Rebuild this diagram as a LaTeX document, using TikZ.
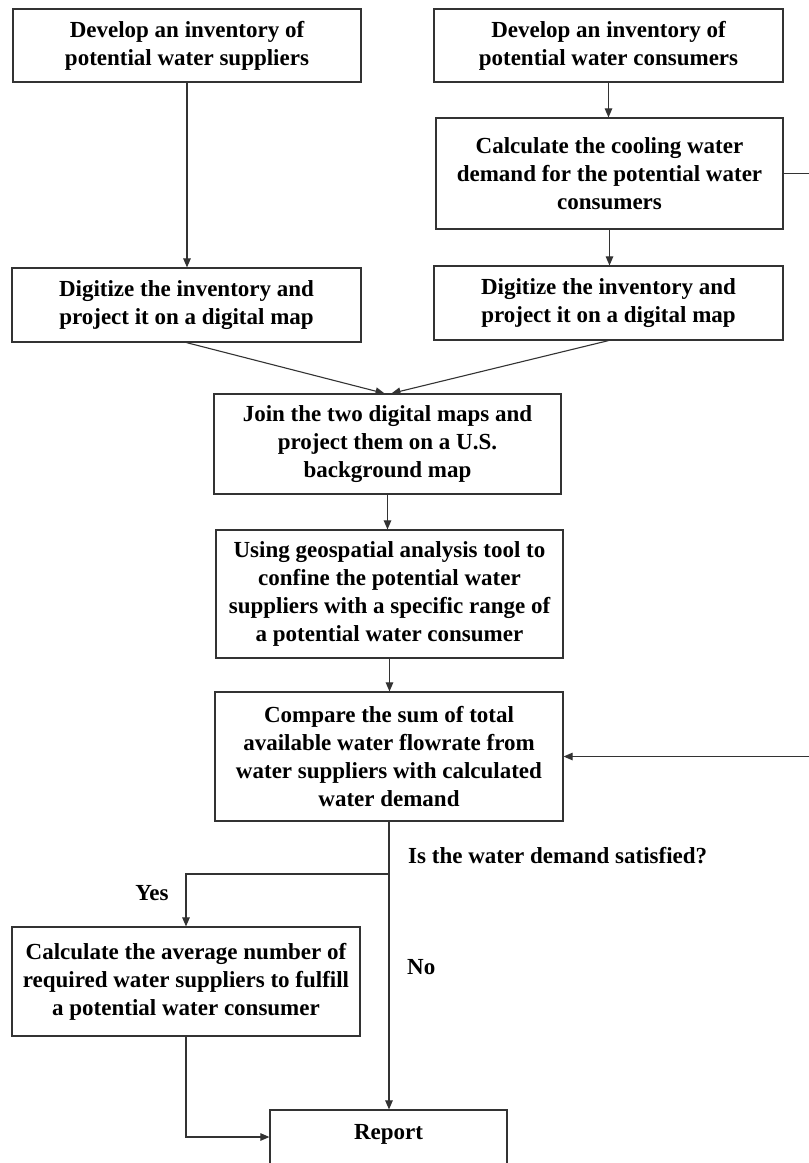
\documentclass[tikz,border=0pt]{standalone}
\usepackage{fontspec}
\setmainfont{Liberation Serif}
\usetikzlibrary{arrows.meta}
\begin{document}
\begin{tikzpicture}[x=1pt,y=-1pt,
  box/.style={draw=black!80, line width=1.2pt, inner sep=0pt, align=center,
    font=\fontsize{23}{28}\selectfont\bfseries},
  lbl/.style={inner sep=0pt, font=\fontsize{23}{28}\selectfont\bfseries},
  conn/.style={draw=black!80, line width=1.1pt, -{Triangle[length=9pt,width=7.5pt]}}]
\useasboundingbox (0,0) rectangle (809,1163);
\clip (0,0) rectangle (809,1163);
\fill[white] (0,0) rectangle (809,1163);

\node[box, minimum width=348pt, minimum height=73pt] (A) at (187,45.5)
  {Develop an inventory of\\potential water suppliers};
\node[box, minimum width=349pt, minimum height=73pt] (B) at (608.5,45.5)
  {Develop an inventory of\\potential water consumers};
\node[box, minimum width=347pt, minimum height=111pt] (C) at (609.5,173.5)
  {Calculate the cooling water\\demand for the potential water\\consumers};
\node[box, minimum width=349pt, minimum height=74pt] (D) at (186.5,305)
  {Digitize the inventory and\\project it on a digital map};
\node[box, minimum width=349pt, minimum height=74pt] (E) at (608.5,303)
  {Digitize the inventory and\\project it on a digital map};
\node[box, minimum width=347pt, minimum height=100pt] (J) at (387.5,444)
  {Join the two digital maps and\\project them on a U.S.\\background map};
\node[box, minimum width=347pt, minimum height=128pt] (U) at (389.5,594)
  {Using geospatial analysis tool to\\confine the potential water\\suppliers with a specific range of\\a potential water consumer};
\node[box, minimum width=348pt, minimum height=129pt] (F) at (389,756.5)
  {Compare the sum of total\\available water flowrate from\\water suppliers with calculated\\water demand};
\node[box, minimum width=348pt, minimum height=109pt] (G) at (186,981.5)
  {Calculate the average number of\\required water suppliers to fulfill\\a potential water consumer};
\node[box, minimum width=237pt, text height=29pt, text depth=25pt] (R) at (388.5,1137)
  {Report};

\node[lbl, anchor=west] (q) at (408,856) {Is the water demand satisfied?};
\node[lbl] (yes) at (152,893) {Yes};
\node[lbl, anchor=west] (no) at (407,967) {No};

\coordinate (br) at (388.5,874);
\coordinate (far) at (830,173.5);

\draw[conn] (A.south) -- (A.south|-D.north);
\draw[conn] (B.south) -- (B.south|-C.north);
\draw[conn] (C.south) -- (C.south|-E.north);
\draw[conn] (D.south) -- ([xshift=-3pt]J.north);
\draw[conn] (E.south) -- ([xshift=4pt]J.north);
\draw[conn] (J.south) -- (J.south|-U.north);
\draw[conn] (U.south) -- (U.south|-F.north);
\draw[conn] (C.east) -- (far) |- (F.east);
\draw[conn] (F.south) -- (F.south|-R.north);
\draw[conn] (br) -| (G.north);
\draw[conn] (G.south) |- (R.west);
\end{tikzpicture}
\end{document}
